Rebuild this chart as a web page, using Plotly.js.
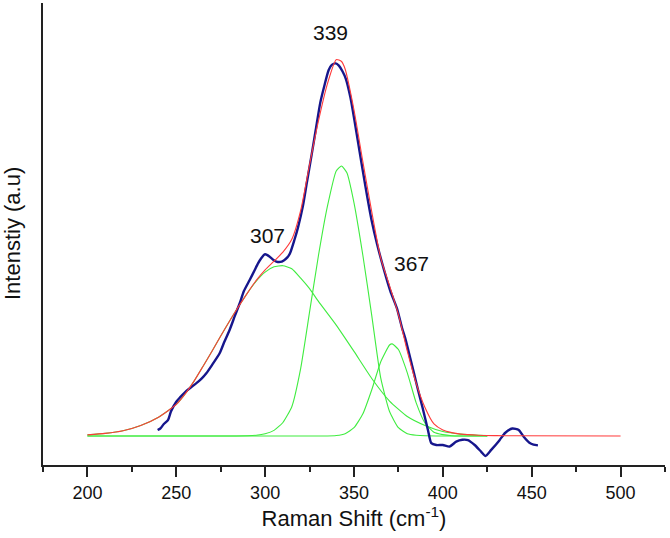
<!DOCTYPE html>
<html>
<head>
<meta charset="utf-8">
<script src="https://cdn.plot.ly/plotly-3.0.1.min.js"></script>
<style>html,body{margin:0;padding:0;background:#fff}#chart{width:670px;height:538px}</style>
</head>
<body>
<div id="chart"></div>
<script>
// Measured Raman spectrum (blue)
const dataX = [239.5,241,243,245.4,247,250,252,255.7,259,262.2,264.5,266.9,270,274.4,277,280,283,285.7,288,291.3,294,296,298,299.7,301,302.5,304.5,306.3,308.5,310.5,312.5,314,316.5,318.5,321.3,323.5,326.2,328.5,331,333.5,335.7,337.5,339.7,341.5,343.5,345.4,348,350.2,352.5,355,357.5,359.8,363,367,370.5,374.2,377,379,381.5,383.8,386,388.6,391.6,393.5,396.3,400,403.8,407.5,411,414.1,417.9,421.6,424,427.2,431.9,435,439.1,442.7,445.5,448.7,451,453.5];
const dataY = [1.6,2.0,3.2,4.3,6.5,9.1,10.2,12.0,13.2,14.4,15.4,16.7,18.8,22.0,25.0,28.2,32.0,35.3,38.5,41.5,44.0,45.9,47.4,48.3,48.2,47.7,46.9,46.4,46.3,46.7,47.5,48.6,52.2,55.5,61.3,67.5,74.9,81.5,88.6,93.5,97.3,98.7,99.1,98.5,97.0,95.0,90.0,84.1,77.5,70.4,63.5,57.6,51.0,44.0,38.5,33.9,28.8,25.7,21.0,16.6,12.3,7.5,1.6,-1.9,-2.4,-2.4,-2.8,-1.5,-1.0,-1.1,-2.4,-4.2,-5.3,-3.7,-1.1,0.8,2.0,1.6,-0.2,-1.8,-2.3,-2.5];

// Cumulative fit (red)
const fitX = [200,210,220,230,240,250,255,260,265,270,275,280,285,290,295,300,305,310,315,320,325,330,335,340,343,345,350,355,360,365,370,375,380,385,390,395,400,405,410,420,430,440,500];
const fitY = [0.3,0.7,1.4,2.8,5.0,8.4,11.2,14.6,18.5,22.5,26.6,30.6,34.4,38.0,41.4,44.2,46.5,48.9,52.3,60.0,72.2,83.8,93.6,100.1,99.6,97.6,86.7,72.9,59.6,47.4,40.0,32.3,22.6,14.0,7.5,3.2,1.6,0.9,0.5,0.2,0.1,0.05,0.0];

// Fitted component peaks (green)
const peak307X = [200,210,220,230,240,250,255,260,265,270,275,280,285,290,295,300,305,310,315,320,325,330,340,350,360,370,380,390,400,410,420,425];
const peak307Y = [0.3,0.7,1.4,2.8,5.0,8.4,11.2,14.6,18.5,22.5,26.6,30.6,34.4,38.0,41.2,43.6,45.0,45.3,44.5,42.0,39.2,35.8,29.5,22.5,15.3,9.3,5.2,2.8,1.2,0.5,0.2,0.1];
const peak339X = [200,250,280,290,295,300,305,310,315,320,325,330,335,340,343,346,350,355,360,365,370,375,380,385,390,400,410,425];
const peak339Y = [0,0,0,0.05,0.2,0.6,1.5,3.6,7.8,18.0,33.0,48.0,61.0,70.5,71.8,70.0,62.0,48.0,32.0,15.5,6.5,2.2,0.6,0.2,0.05,0,0,0];
const peak367X = [200,250,300,320,330,335,340,345,350,355,360,365,370,371.5,375,380,385,390,395,400,405,410,425];
const peak367Y = [0,0,0,0,0.0,0.02,0.14,0.63,2.2,5.9,12.3,19.7,24.2,24.5,23.0,16.8,8.8,3.4,1.0,0.36,0.07,0.01,0.0];

// Peak labels
const labelText = ["339","307","367"];
const labelX = [336.8,301.6,382.6];
const labelY = [107.3,53.4,45.8];

const xTicks = [200,250,300,350,400,450,500];
const xTitle = "Raman Shift (cm<sup>-1</sup>)";
const yTitle = "Intenstiy (a.u)";

const green = "#3fec3f";
const traces = [
  {x: peak307X, y: peak307Y, mode: "lines", line: {color: green, width: 1.1}},
  {x: peak339X, y: peak339Y, mode: "lines", line: {color: green, width: 1.1}},
  {x: peak367X, y: peak367Y, mode: "lines", line: {color: green, width: 1.1}},
  {x: dataX, y: dataY, mode: "lines", line: {color: "#16168c", width: 2.4, shape: "spline", smoothing: 0.6}},
  {x: fitX, y: fitY, mode: "lines", line: {color: "#ff3a3a", width: 1.1, shape: "spline", smoothing: 0.6}}
];
traces.slice(0,3).forEach(t => { t.line.shape = "spline"; t.line.smoothing = 0.5; });

const font = "Arial, 'Liberation Sans', sans-serif";
const annotations = labelText.map((t, i) => ({
  x: labelX[i], y: labelY[i], xref: "x", yref: "y", text: t, showarrow: false,
  font: {size: 21, family: font, color: "#111"}, xanchor: "center", yanchor: "middle"
}));
annotations.push({
  x: -0.0498, y: 0.5, xref: "paper", yref: "paper", text: yTitle, showarrow: false,
  textangle: -90, xanchor: "center", yanchor: "middle",
  font: {size: 22, family: font, color: "#111"}
});

const layout = {
  width: 670, height: 538,
  margin: {l: 43, r: 5, t: 3, b: 73},
  paper_bgcolor: "#fff", plot_bgcolor: "#fff",
  showlegend: false,
  font: {family: font, color: "#111"},
  xaxis: {
    range: [175, 525], tickmode: "array", tickvals: xTicks, ticktext: xTicks.map(String),
    ticks: "outside", ticklen: 10, tickwidth: 2, tickcolor: "#222",
    minor: {dtick: 25, tick0: 0, ticks: "outside", ticklen: 5, tickwidth: 2, tickcolor: "#222"},
    showline: true, linecolor: "#222", linewidth: 2,
    showgrid: false, zeroline: false,
    tickfont: {size: 18, family: font, color: "#111"},
    title: {text: xTitle, font: {size: 22, family: font, color: "#111"}, standoff: 9}
  },
  yaxis: {
    range: [-7.71, 115.16],
    showline: true, linecolor: "#222", linewidth: 2,
    showticklabels: false, ticks: "", showgrid: false, zeroline: false
  },
  annotations: annotations
};
Plotly.newPlot("chart", traces, layout, {displayModeBar: false, staticPlot: true});
</script>
</body>
</html>
